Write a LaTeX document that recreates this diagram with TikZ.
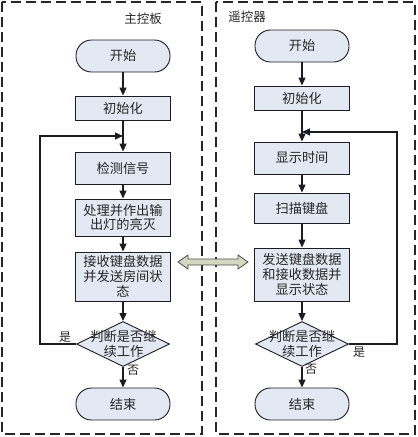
\documentclass[tikz,border=0pt]{standalone}
\usepackage{fontspec}
\setmainfont{Noto Sans CJK SC}
\usetikzlibrary{shapes.geometric, arrows.meta}
\definecolor{boxfill}{HTML}{E3E9F3}
\definecolor{arrfill}{HTML}{D4D8C0}
\definecolor{edge}{HTML}{1C1C24}
\begin{document}
\begin{tikzpicture}[x=1pt,y=-1pt,
  proc/.style={draw=edge, fill=boxfill, line width=0.9pt, minimum width=95pt, inner sep=0pt,
    align=center, text=black!85, font=\fontsize{13.2}{14.8}\selectfont},
  term/.style={proc, rounded corners=15.5pt, minimum width=94pt, minimum height=32pt},
  dec/.style={draw=edge, fill=boxfill, line width=0.9pt, diamond, inner sep=0pt,
    minimum width=93pt, minimum height=45pt},
  dectext/.style={align=center, text=black!85, font=\fontsize{13.3}{15.5}\selectfont},
  lbl/.style={text=black!85, font=\fontsize{12.5}{13}\selectfont, inner sep=0pt},
  small/.style={lbl, font=\fontsize{12}{13}\selectfont},
  flow/.style={line width=1.2pt, draw=edge, -{Triangle[length=8pt,width=7pt]}},
  frame/.style={draw=black!85, line width=1.4pt, dash pattern=on 10pt off 5pt},
]
\useasboundingbox (0,0) rectangle (418,437);

% frames
\draw[frame] (2,2) rectangle (202,434);
\draw[frame] (216,2) rectangle (415,434);

% titles
\node[lbl] (t1) at (143,19) {主控板};
\node[lbl] (t2) at (247,17) {遥控器};

% left column
\node[term] (s1) at (123,56) {开始};
\node[proc, minimum height=24pt] (i1) at (123,108) {初始化};
\node[proc, minimum height=32pt] (c1) at (123,168) {检测信号};
\node[proc, minimum height=37pt] (p1) at (123,217.5) {处理并作出输\\出灯的亮灭};
\node[proc, minimum height=49pt] (r1) at (123,276.5) {接收键盘数据\\并发送房间状\\态};
\node[dec] (d1) at (123,344) {};
\node[dectext] (dt1) at (123.5,344) {判断是否继\\续工作};
\node[term] (e1) at (123,404) {结束};
\coordinate (j1) at (123,136);
\coordinate (l1) at (40,344);

\draw[flow] (s1) -- (i1);
\draw[flow] (i1) -- (c1);
\draw[flow] (c1) -- (p1);
\draw[flow] (p1) -- (r1);
\draw[flow] (r1) -- (d1);
\draw[flow] (d1) -- (e1);
\draw[flow] (d1.west) -- (l1) |- (j1);
\node[small] (y1) at (65,337) {是};
\node[small] (n1) at (133,370) {否};

% right column
\node[term] (s2) at (302,46) {开始};
\node[proc, minimum height=24pt] (i2) at (302,98) {初始化};
\node[proc, minimum height=32pt] (c2) at (302,158) {显示时间};
\node[proc, minimum height=30pt] (k2) at (302,208) {扫描键盘};
\node[proc, minimum height=53pt] (r2) at (302,274.5) {发送键盘数据\\和接收数据并\\显示状态};
\node[dec] (d2) at (302,344) {};
\node[dectext] (dt2) at (302,344) {判断是否继\\续工作};
\node[term] (e2) at (302,404) {结束};
\coordinate (j2) at (302,132);
\coordinate (l2) at (397,344);

\draw[flow] (s2) -- (i2);
\draw[flow] (i2) -- (c2);
\draw[flow] (c2) -- (k2);
\draw[flow] (k2) -- (r2);
\draw[flow] (r2) -- (d2);
\draw[flow] (d2) -- (e2);
\draw[flow] (d2.east) -- (l2) |- (j2);
\node[small] (y2) at (359,352) {是};
\node[small] (n2) at (311,369) {否};

% double arrow between boards
\draw[draw=black!70, fill=arrfill, line width=0.8pt]
  (178,262) -- (188,255) -- (188,259) -- (238,259) -- (238,255) -- (248,262)
  -- (238,269) -- (238,265) -- (188,265) -- (188,269) -- cycle;
\end{tikzpicture}
\end{document}
